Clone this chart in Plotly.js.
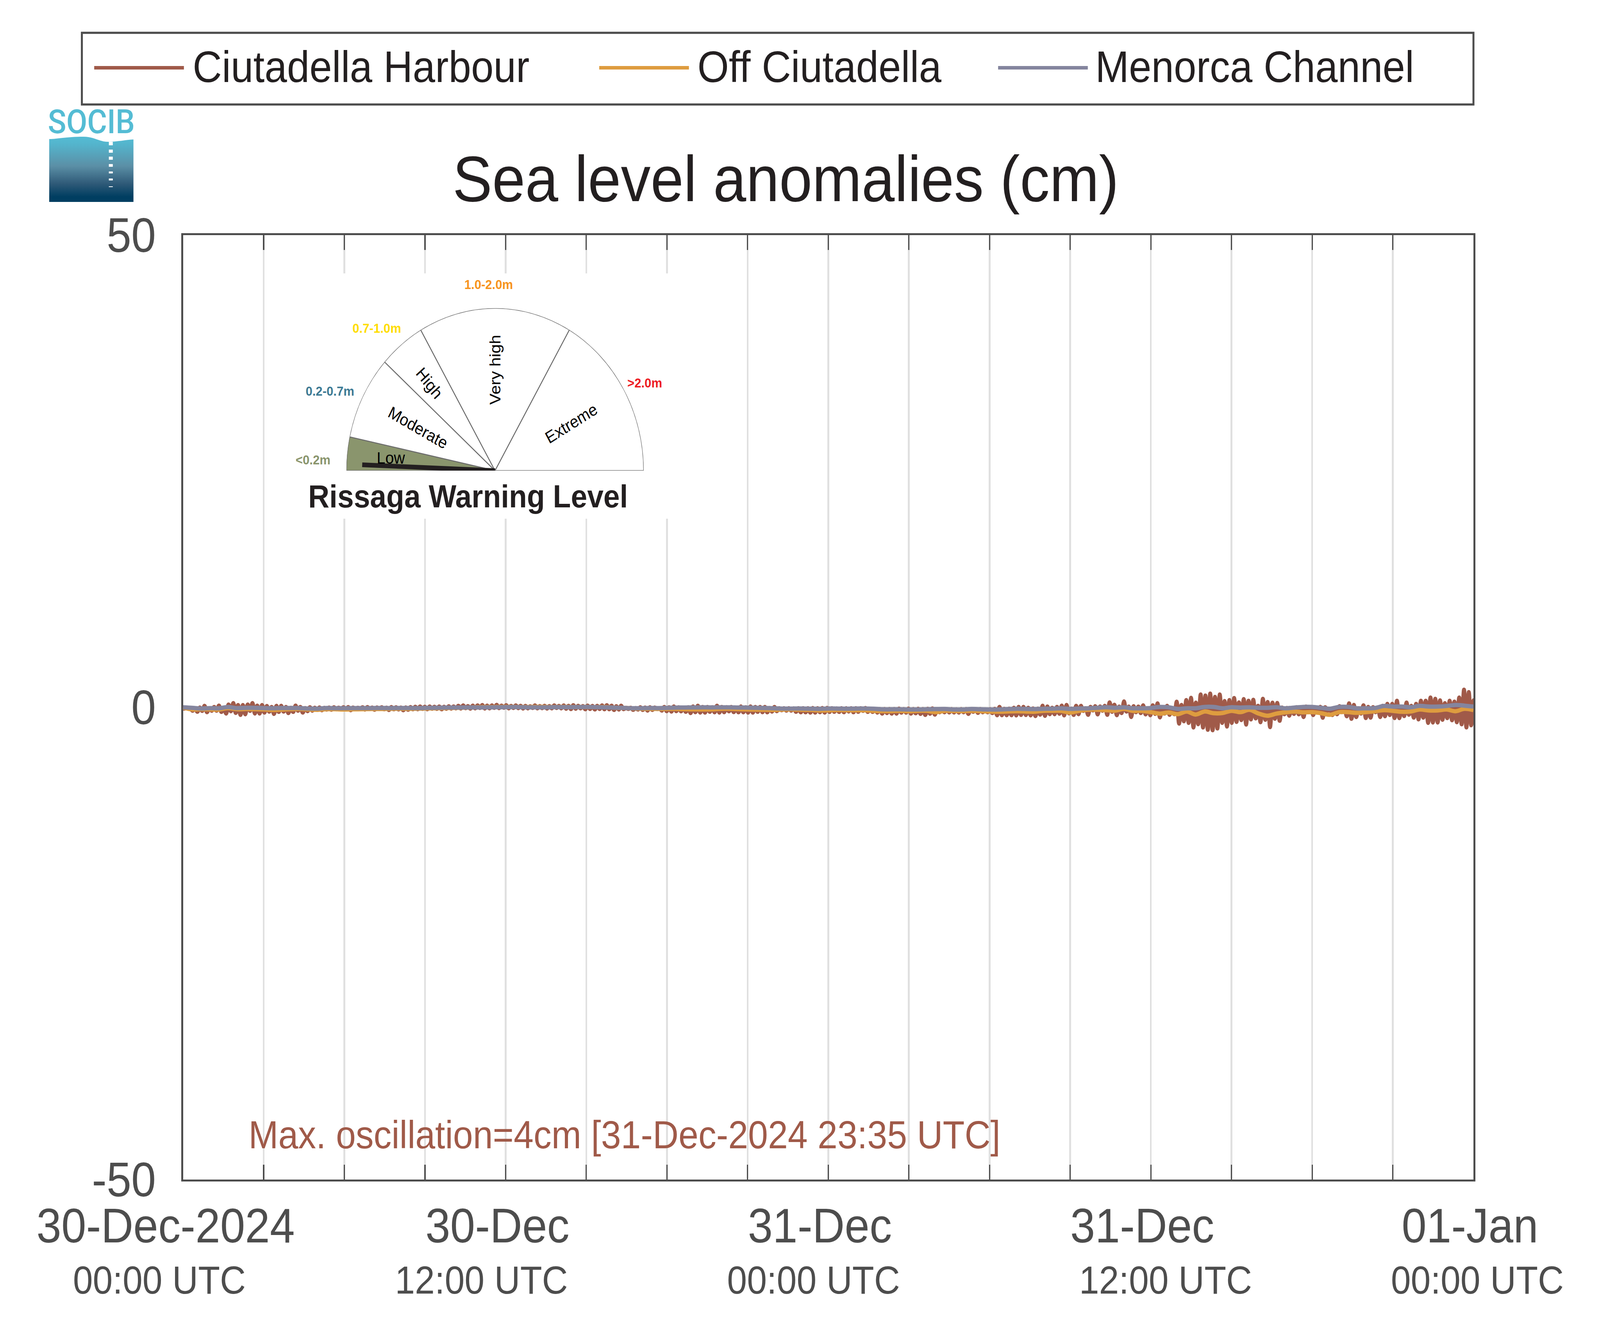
<!DOCTYPE html>
<html><head><meta charset="utf-8">
<script src="https://cdn.plot.ly/plotly-3.0.1.min.js"></script>
<style>html,body{margin:0;padding:0;background:#fff;overflow:hidden}#c{width:4476px;height:3395px;transform-origin:0 0}</style>
</head><body><div id="c"></div>
<script>
const seriesNames = ['Ciutadella Harbour', 'Off Ciutadella', 'Menorca Channel'];
const seriesColors = ['#a05a49', '#de9c3f', '#84859e'];
const startMs = Date.UTC(2024, 11, 30);
const harbourCycleMinutes = 10.6875;
const channelStepMinutes = 20;

const harbourPeaks = [-.1,-.1,-.1,
-.03,.15,-.1,.03,.18,-.1,.29,.44,.24,.24,.29,.44,.18,.24,.13,.03,.15,.15,.03,-.05,.18,.03,-.08,0,
-.05,-.02,-.06,-.03,0,-.04,0,.02,-.03,-.05,0,.02,-.03,-.02,0,-.04,.02,0,-.03,-.02,.02,
.05,.08,.05,.08,.05,.08,.05,.1,.08,
.15,.2,.12,.18,.2,.24,.18,.2,.26,.18,.22,.14,.2,.16,.14,.1,.2,.12,.16,.12,.2,.14,.2,.16,.22,.16,.12,.18,.14,.16,.2,.22,
.165,.11,.165,-.05,-.05,-.08,0,-.03,0,-.03,-.1,.03,0,.08,0,-.03,0,.08,.165,.03,.03,0,.165,.03,0,.03,-.05,.08,0,.08,.03,.03,.03,-.08,.03,
-.1,-.1,-.1,-.12,-.1,-.1,-.1,-.08,-.1,-.08,-.07,-.1,-.12,-.1,-.1,-.1,-.1,-.1,-.08,
-.2,-.2,-.2,-.2,-.2,-.2,
-.14,-.2,-.14,-.2,-.17,-.2,-.17,-.12,
-.2,-.22,-.2,-.2,-.22,-.2,-.2,-.22,-.2,-.2,-.22,-.2,-.18,
.04,-.17,-.14,-.05,.04,.04,-.05,-.12,-.14,.165,.08,-.05,.04,.18,.25,-.14,
.15,.15,-.1,.04,.11,.08,.15,.52,.27,.07,.62,.07,.11,.07,.21,-.1,.21,.41,-.1,.15,-.1,.59,.25,.77,1.0,.5,1.35,1.24,1.45,1.1,
1.35,.66,.77,.98,.52,.87,.69,.80,.15,.9,.56,.49,.45,-.03,-.07,-.1,0,-.03,.07,-.03,-.03,.04,0,-.17,-.1,.11,.04,.41,.25,-.1,
.21,.04,.01,-.1,.15,.36,.36,.69,.04,.5,.15,.36,.69,.69,1.03,.9,.73,.43,.69,.6,1.03,1.86,1.6,.73];

const harbourTroughs = [-.15,-.1,-.35,-.47,-.37,-.51,-.35,-.35,-.48,-.65,-.41,-.59,-.8,-.73,-.37,-.65,-.65,-.55,-.45,-.69,-.48,-.44,-.6,-.48,-.35,-.55,-.4,-.35,-.26,-.3,-.23,-.25,-.2,-.19,-.23,-.3,-.19,-.16,-.23,
-.17,-.25,-.15,-.2,-.28,-.2,-.22,-.3,-.25,-.2,
-.2,-.16,-.2,-.14,-.16,-.2,-.14,-.13,
-.1,-.12,-.08,-.13,-.1,-.06,-.12,-.1,-.05,-.08,-.04,-.1,-.06,-.08,-.12,-.1,-.06,-.1,-.08,-.12,-.1,-.06,-.1,-.14,-.18,-.14,-.1,-.2,-.17,-.22,-.17,-.2,
-.2,
-.27,-.23,-.19,-.17,-.26,-.23,-.27,-.34,-.27,-.17,-.34,-.40,-.44,-.40,-.41,-.47,-.60,-.51,-.55,-.55,-.47,-.52,-.55,-.51,-.41,-.5,-.52,-.52,-.55,-.55,-.47,-.51,-.52,-.44,-.40,-.3,-.34,-.34,-.47,-.52,-.52,-.55,-.55,-.51,-.55,-.48,-.47,-.48,-.51,-.44,-.51,-.47,-.37,
-.48,-.48,-.55,-.66,-.6,-.66,-.66,-.55,-.55,-.66,-.62,-.69,-.8,-.67,-.77,-.52,-.52,-.54,-.54,-.55,-.52,-.69,-.47,-.58,-.52,-.52,-.6,-.83,-.83,-.83,-.83,-.85,-.8,-.81,-.85,-.92,-.77,-.9,-.72,-.72,-.67,-.85,-.63,-.8,-.72,
-.37,-.79,-.32,-.74,-.35,-.79,-.47,-.83,-.6,-.44,-1.02,-.51,-.6,-.74,-.83,-.69,-1.06,-.65,-.79,-.72,-1.72,-1.47,-1.64,-2.13,-1.78,-2.13,-2.37,-2.42,
-2.23,-1.64,-2.03,-1.64,-1.54,-1.34,-1.82,-1.27,-1.17,-1.57,-1.31,-2.09,-1.2,-1.42,-.73,-.88,-.69,-.73,-1.02,-.41,-.81,-.51,-1.1,-.37,-.81,-.72,-.5,-.94,-1.21,-1.02,-.65,
-1.13,-1.09,-.51,-1.02,-.94,-.81,-1.13,-1.14,-.92,-.78,-1.09,-1.27,-1.09,-1.64,-1.6,-1.6,-1.31,-1.14,-1.36,-1.57,-1.79,-2.12,-1.89,-1.27];

const offCiutadella = [-.02,-.22,-.2,-.22,-.24,-.08,-.2,-.18,-.2,-.22,-.28,-.24,-.2,-.18,-.23,-.26,-.2,-.2,-.23,-.21,-.2,
-.18,-.18,-.16,-.14,-.15,-.14,-.12,-.1,-.08,-.06,-.04,-.02,.02,.03,.04,.05,.04,.03,.04,.05,.03,.04,.04,.03,.04,.02,.03,
-.03,-.06,-.1,-.14,-.16,-.17,-.17,-.17,-.2,-.22,-.23,-.22,-.17,-.16,-.2,-.23,-.25,-.26,-.27,-.24,-.22,-.26,-.27,-.33,-.32,-.28,-.3,-.31,-.31,
-.37,-.4,-.4,-.37,-.41,-.37,-.37,-.51,-.37,-.38,-.4,-.37,-.4,-.44,-.47,-.44,-.41,-.44,-.47,-.37,-.37,-.37,-.55,-.37,
-.26,-.26,-.3,-.35,-.17,-.37,-.37,-.51,-.67,-.55,-.72,-.44,-.76,-.44,-.62,-.6,
-.37,-.51,-.26,-.65,-.89,-.67,-.53,-.44,-.53,-.51,-.62,-.79,-.51,-.51,-.58,-.51,-.41,-.3,-.37,-.47,-.44,-.23,-.33,-.33,-.23,-.41,-.16,-.3];

const menorcaChannel = [0,-.05,-.12,-.08,-.1,.03,-.08,-.05,-.05,-.08,-.09,-.07,-.07,-.08,-.12,-.13,-.07,-.09,-.09,-.08,-.08,
-.08,-.07,-.08,-.07,-.07,-.08,-.06,-.05,-.03,-.02,-.02,-.01,-.01,0,.01,.02,.03,.01,0,0,.01,.02,.02,.03,.04,.02,0,
-.03,-.05,-.09,-.09,-.07,-.08,-.06,-.03,-.02,-.01,0,-.01,0,0,-.02,-.03,-.05,-.07,-.1,-.13,-.13,-.12,-.14,-.16,-.12,-.13,-.14,-.13,-.12,
-.14,-.21,-.21,-.21,-.23,-.23,-.21,-.19,-.18,-.23,-.23,-.18,-.21,-.23,-.23,-.19,-.15,-.17,-.19,-.15,-.14,-.1,-.17,-.12,
-.1,-.05,.01,-.05,0,-.1,-.1,-.07,.04,0,-.17,-.1,-.1,.04,.04,-.1,
.01,-.03,0,-.05,-.05,.01,-.1,-.03,.04,.04,-.05,-.14,.04,.04,-.1,-.1,-.07,.14,.08,.08,.01,.15,.08,.08,.14,.25,.18,.08];

const yTicks = [-50, 0, 50];
const xTickHours = [0,3,6,9,12,15,18,21,24,27,30,33,36,39,42,45,48];
const dateLabels = ['30-Dec-2024','30-Dec','31-Dec','31-Dec','01-Jan'];
const timeLabels = ['00:00 UTC','12:00 UTC','00:00 UTC','12:00 UTC','00:00 UTC'];
const titleText = 'Sea level anomalies (cm)';
const maxText = 'Max. oscillation=4cm [31-Dec-2024 23:35 UTC]';

const gaugeEdges = [0,12,42,60,120,180];
const gaugeColors = ['#8a956d','#ffffff','#ffffff','#ffffff','#ffffff'];
const gaugeNeedleDeg = 2.3;
const gaugeNeedleLen = 0.894;
const gaugeNames = ['Low','Moderate','High','Very high','Extreme'];
const rangeLabels = ['<0.2m','0.2-0.7m','0.7-1.0m','1.0-2.0m','>2.0m'];
const rangeColors = ['#8a956d','#3d7a94','#ffdd00','#f7941d','#ed1c24'];

const W=4476,H=3395,L=511.5,R=4122,T=602,B=3020;
const PW=R-L,PH=B-T;
// The browser may cap the window width below the requested size: fit the whole figure to what is available.
const fit=Math.min(1,window.innerWidth/W);
document.getElementById('c').style.transform='scaleX('+fit+')';
const iso = ms => new Date(ms).toISOString().replace('Z','');
const hourMs = 3600000;
const fx=x=>(x-L)/PW, fy=y=>1-(y-T)/PH;
const px = (x,y)=>({x:fx(x),y:fy(y),xref:'paper',yref:'paper'});
const FONT='Liberation Sans';
const TXT='#231f20', AX='#4d4d4d';

const hx=[],hy=[];
harbourTroughs.forEach((t,i)=>{
  hx.push(iso(startMs+i*harbourCycleMinutes*60000)); hy.push(t);
  if(i<harbourPeaks.length){hx.push(iso(startMs+(i+.5)*harbourCycleMinutes*60000)); hy.push(harbourPeaks[i]);}
});
const cx = offCiutadella.map((_,i)=>iso(startMs+i*channelStepMinutes*60000));
const common={type:'scatter',mode:'lines',xaxis:'x',yaxis:'y',cliponaxis:false,showlegend:false,hoverinfo:'skip'};
const lineStyle=(c,w)=>({color:c,width:w,simplify:false,shape:'spline',smoothing:1});
const traces=[
 {...common,name:seriesNames[0],x:hx,y:hy,line:lineStyle(seriesColors[0],11)},
 {...common,name:seriesNames[1],x:cx,y:offCiutadella,line:lineStyle(seriesColors[1],11)},
 {...common,name:seriesNames[2],x:cx,y:menorcaChannel,line:lineStyle(seriesColors[2],11)},
 {type:'barpolar',subplot:'polar',r:gaugeColors.map(()=>1),
  theta:gaugeColors.map((_,i)=>(gaugeEdges[i]+gaugeEdges[i+1])/2),
  width:gaugeColors.map((_,i)=>gaugeEdges[i+1]-gaugeEdges[i]),
  marker:{color:gaugeColors,line:{color:'#6d6d6d',width:2.5}},showlegend:false,hoverinfo:'skip'},
 {type:'scatterpolar',subplot:'polar',mode:'lines',r:[0,gaugeNeedleLen],theta:[gaugeNeedleDeg,gaugeNeedleDeg],
  line:{color:TXT,width:12},cliponaxis:false,showlegend:false,hoverinfo:'skip'}
];

const ann=[];
const addText=(text,x,y,size,color,opt={})=>ann.push({...px(x,y),text,showarrow:false,xanchor:opt.anchor||'center',yanchor:'middle',
   textangle:opt.angle||0,borderpad:0,font:{family:opt.family||FONT,size,color,weight:opt.bold?700:(opt.weight||400)}});
const legendLineX=[263,1676,2792], legendTextX=[538,1950,3063];
seriesNames.forEach((n,i)=>addText(n,legendTextX[i],171,113,TXT,{anchor:'left'}));
const dateCx=[463,1391,2293,3195,4112], timeCx=[445,1347,2276,3261,4133];
dateLabels.forEach((t,i)=>addText(t,dateCx[i],3137,125,AX));
timeLabels.forEach((t,i)=>addText(t,timeCx[i],3277,100,AX));
addText(maxText,694,2905,100,seriesColors[0],{anchor:'left'});
addText('Rissaga Warning Level',1309,1270,82,TXT,{bold:true});
const nameX=[1093.7,1169.5,1201,1385,1597.5],nameY=[1172,1094.6,981,947,1084],nameA=[0,28,50,-90,-30];
gaugeNames.forEach((t,i)=>addText(t,nameX[i],nameY[i],43,'#000',{angle:nameA[i]}));
const rX=[874.7,922.5,1053.7,1367,1803],rY=[1176.6,1000.7,840,728,979.7];
rangeLabels.forEach((t,i)=>addText(t.replace('<','&lt;').replace('>','&gt;'),rX[i],rY[i],34,rangeColors[i],{bold:true}));
addText('SOCIB',255,312,85,'#54bcd4',{family:'Roboto',weight:500});

const shapes=[
 {type:'rect',xref:'paper',yref:'paper',x0:fx(228.5),x1:1,y0:fy(84),y1:fy(267.5),line:{color:AX,width:5.5},fillcolor:'#fff',layer:'below'},
 {type:'rect',xref:'x',yref:'y',layer:'between',line:{width:0},fillcolor:'#fff',
  x0:iso(startMs+(803-L)/PW*48*hourMs),x1:iso(startMs+(1872-L)/PW*48*hourMs),
  y0:(1811-700)/24.18,y1:(1811-1328)/24.18}
];
legendLineX.forEach((x,i)=>shapes.push({type:'line',xref:'paper',yref:'paper',x0:fx(x),x1:fx(x+251),y0:fy(173.5),y1:fy(173.5),line:{color:seriesColors[i],width:9},layer:'above'}));

const lx=137,ly=350;
const dashes=[[363,372],[383,391],[401,409],[420,427],[439,444],[457,462],[477,479]];
const logo=`<svg xmlns="http://www.w3.org/2000/svg" width="236" height="167" viewBox="0 0 236 167"><defs><linearGradient id="g" x1="0" y1="0" x2="0" y2="1"><stop offset="0" stop-color="#54bcd4"/><stop offset=".12" stop-color="#54b4cc"/><stop offset=".45" stop-color="#5b8fa6"/><stop offset=".72" stop-color="#2f5a78"/><stop offset=".92" stop-color="#003e61"/><stop offset="1" stop-color="#003e61"/></linearGradient></defs><path fill="url(#g)" d="M0 6C25 6 45 0 97 0C125 0 140 13 165 13C190 13 215 8 236 7V167H0Z"/>${dashes.map(d=>`<rect x="167" y="${d[0]-ly}" width="11" height="${d[1]-d[0]}" fill="#fff"/>`).join('')}</svg>`;

const layout={
 width:W,height:H,paper_bgcolor:'#fff',plot_bgcolor:'#fff',showlegend:false,
 margin:{l:L,r:W-R,t:T,b:H-B,pad:0,autoexpand:false},
 title:{text:titleText,x:2198/W,xanchor:'center',xref:'container',y:1-457/H,yanchor:'middle',yref:'container',font:{family:FONT,size:166,color:TXT}},
 xaxis:{type:'date',range:[iso(startMs),iso(startMs+48*hourMs)],tickmode:'array',tickvals:xTickHours.map(h=>iso(startMs+h*hourMs)),ticktext:xTickHours.map(()=>''),
   showgrid:true,gridcolor:'#e0e0e0',gridwidth:5,zeroline:false,showline:true,linecolor:AX,linewidth:5,mirror:'ticks',ticks:'inside',ticklen:38,tickwidth:3.5,tickcolor:AX,layer:'below traces'},
 yaxis:{range:[-50,50],tickmode:'array',tickvals:yTicks,ticktext:yTicks.map(String),showgrid:true,gridcolor:'#e0e0e0',gridwidth:5,zeroline:false,showline:true,linecolor:AX,linewidth:5,mirror:'ticks',ticks:'inside',ticklen:38,tickwidth:3.5,tickcolor:AX,layer:'below traces',
   ticklabelstandoff:46,tickfont:{family:FONT,size:124,color:AX}},
 polar:{domain:{x:[fx(968),fx(1801)],y:[fy(1205),fy(789)]},sector:[0,180],bgcolor:'rgba(0,0,0,0)',hole:0,
   radialaxis:{visible:false,range:[0,1]},angularaxis:{visible:false,rotation:180,direction:'clockwise'}},
 annotations:ann,shapes,
 images:[{source:'data:image/svg+xml;base64,'+btoa(logo),xref:'paper',yref:'paper',x:fx(lx),y:fy(ly),sizex:236/PW,sizey:167/PH,sizing:'stretch',xanchor:'left',yanchor:'top',layer:'above'}]
};
Plotly.newPlot('c',traces,layout,{staticPlot:true,displayModeBar:false});
</script></body></html>
